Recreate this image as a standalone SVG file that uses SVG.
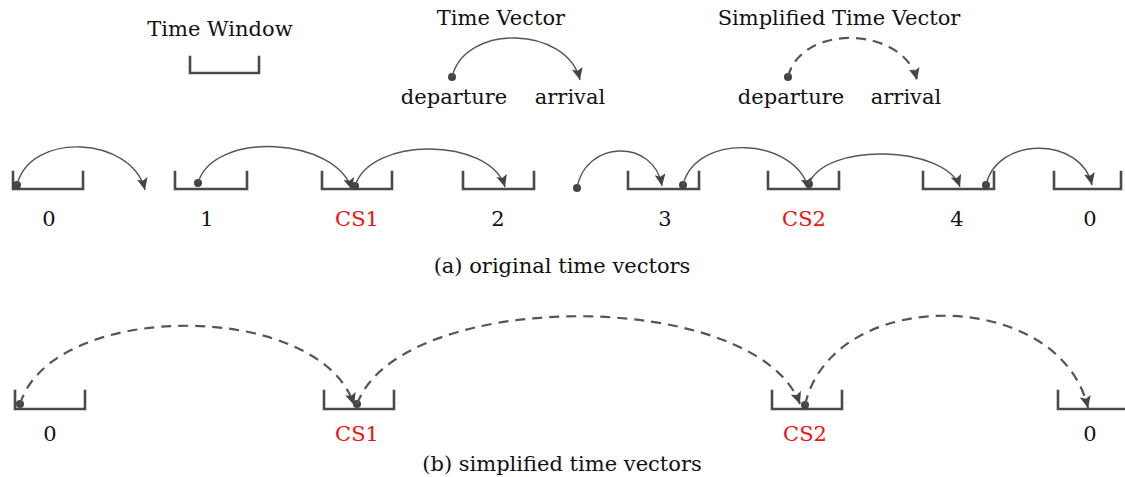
<svg xmlns="http://www.w3.org/2000/svg" width="1125" height="477" viewBox="0 0 1125 477">
<style>
  text { font-family: "DejaVu Serif", "Liberation Serif", serif; font-size: 21px; fill: #111; text-anchor: middle; }
  .red { fill: #ee1111; }
  .tw { fill: none; stroke: #4a4a4a; stroke-width: 2.6; stroke-linecap: square; }
  .tv { fill: none; stroke: #555; stroke-width: 1.4; }
  .stv { fill: none; stroke: #555; stroke-width: 2.2; stroke-dasharray: 10 7; }
  .dot { fill: #444; }
</style>
<defs>
  <marker id="ah" markerUnits="userSpaceOnUse" markerWidth="13" markerHeight="11" viewBox="0 0 13 11" refX="12" refY="5.5" orient="auto">
    <path d="M0,0 L12,5.5 L0,11 L2.5,5.5 z" fill="#444"/>
  </marker>
</defs>

<!-- Legend -->
<g id="legend-window">
  <text x="220" y="36">Time Window</text>
  <path class="tw" d="M190,57 V73 H259 V57"/>
</g>
<g id="legend-vector">
  <text x="501" y="25">Time Vector</text>
  <circle class="dot" cx="452" cy="77" r="4"/>
  <text x="454" y="104">departure</text>
  <text x="570" y="104">arrival</text>
</g>
<g id="legend-simplified">
  <text x="839" y="25">Simplified Time Vector</text>
  <circle class="dot" cx="788" cy="77" r="4"/>
  <text x="791" y="104">departure</text>
  <text x="906" y="104">arrival</text>
</g>

<!-- Row (a) nodes -->
<g id="a-0"><path class="tw" d="M13,172 V189 H83 V172"/><circle class="dot" cx="17" cy="185" r="4"/><text x="49" y="226">0</text></g>
<g id="a-1"><path class="tw" d="M175,172 V189 H247 V172"/><circle class="dot" cx="198" cy="183" r="4"/><text x="207" y="226">1</text></g>
<g id="a-cs1"><path class="tw" d="M322,172 V189 H392 V172"/><circle class="dot" cx="355" cy="186" r="4"/><text class="red" x="357" y="226">CS1</text></g>
<g id="a-2"><path class="tw" d="M463,172 V189 H534 V172"/><text x="498" y="226">2</text></g>
<g id="a-dep3"><circle class="dot" cx="577" cy="188" r="4"/></g>
<g id="a-3"><path class="tw" d="M628,172 V189 H699 V172"/><circle class="dot" cx="683" cy="185" r="4"/><text x="665" y="226">3</text></g>
<g id="a-cs2"><path class="tw" d="M768,172 V189 H839 V172"/><circle class="dot" cx="809" cy="184" r="4"/><text class="red" x="804" y="226">CS2</text></g>
<g id="a-4"><path class="tw" d="M923,172 V189 H994 V172"/><circle class="dot" cx="986" cy="185" r="4"/><text x="957" y="226">4</text></g>
<g id="a-0end"><path class="tw" d="M1054,172 V189 H1121 V172"/><text x="1090" y="226">0</text></g>
<text x="562" y="273">(a) original time vectors</text>

<!-- Row (b) nodes -->
<g id="b-0"><path class="tw" d="M15,391 V409 H85 V391"/><circle class="dot" cx="20" cy="404" r="4"/><text x="50" y="441">0</text></g>
<g id="b-cs1"><path class="tw" d="M324,391 V409 H394 V391"/><circle class="dot" cx="357" cy="404" r="4"/><text class="red" x="357" y="441">CS1</text></g>
<g id="b-cs2"><path class="tw" d="M772,391 V409 H842 V391"/><circle class="dot" cx="805" cy="405" r="4"/><text class="red" x="805" y="441">CS2</text></g>
<g id="b-0end"><path class="tw" d="M1058,391 V409 H1130"/><text x="1090" y="441">0</text></g>
<text x="562" y="471">(b) simplified time vectors</text>

<!-- Connectors -->
<g id="connectors">
  <path class="tv" marker-end="url(#ah)" d="M452,77 C465,23 567,26 580,80"/>
  <path class="stv" marker-end="url(#ah)" d="M788,77 C801,23 904,26 917,80"/>

  <path class="tv" marker-end="url(#ah)" d="M17,185 C30,131 132,136 145,190"/>
  <path class="tv" marker-end="url(#ah)" d="M198,183 C213,130 337,137 352,190"/>
  <path class="tv" marker-end="url(#ah)" d="M355,186 C370,136 490,137 505,187"/>
  <path class="tv" marker-end="url(#ah)" d="M577,188 C585,140 654,138 662,186"/>
  <path class="tv" marker-end="url(#ah)" d="M683,185 C696,132 796,137 809,190"/>
  <path class="tv" marker-end="url(#ah)" d="M809,184 C824,142 945,145 960,187"/>
  <path class="tv" marker-end="url(#ah)" d="M986,185 C997,136 1081,136 1092,185"/>

  <path class="stv" marker-end="url(#ah)" d="M20,404 C53,299 321,300 354,405"/>
  <path class="stv" marker-end="url(#ah)" d="M357,404 C401,287 756,287 800,404"/>
  <path class="stv" marker-end="url(#ah)" d="M805,405 C833,284 1060,287 1088,408"/>
</g>
</svg>
